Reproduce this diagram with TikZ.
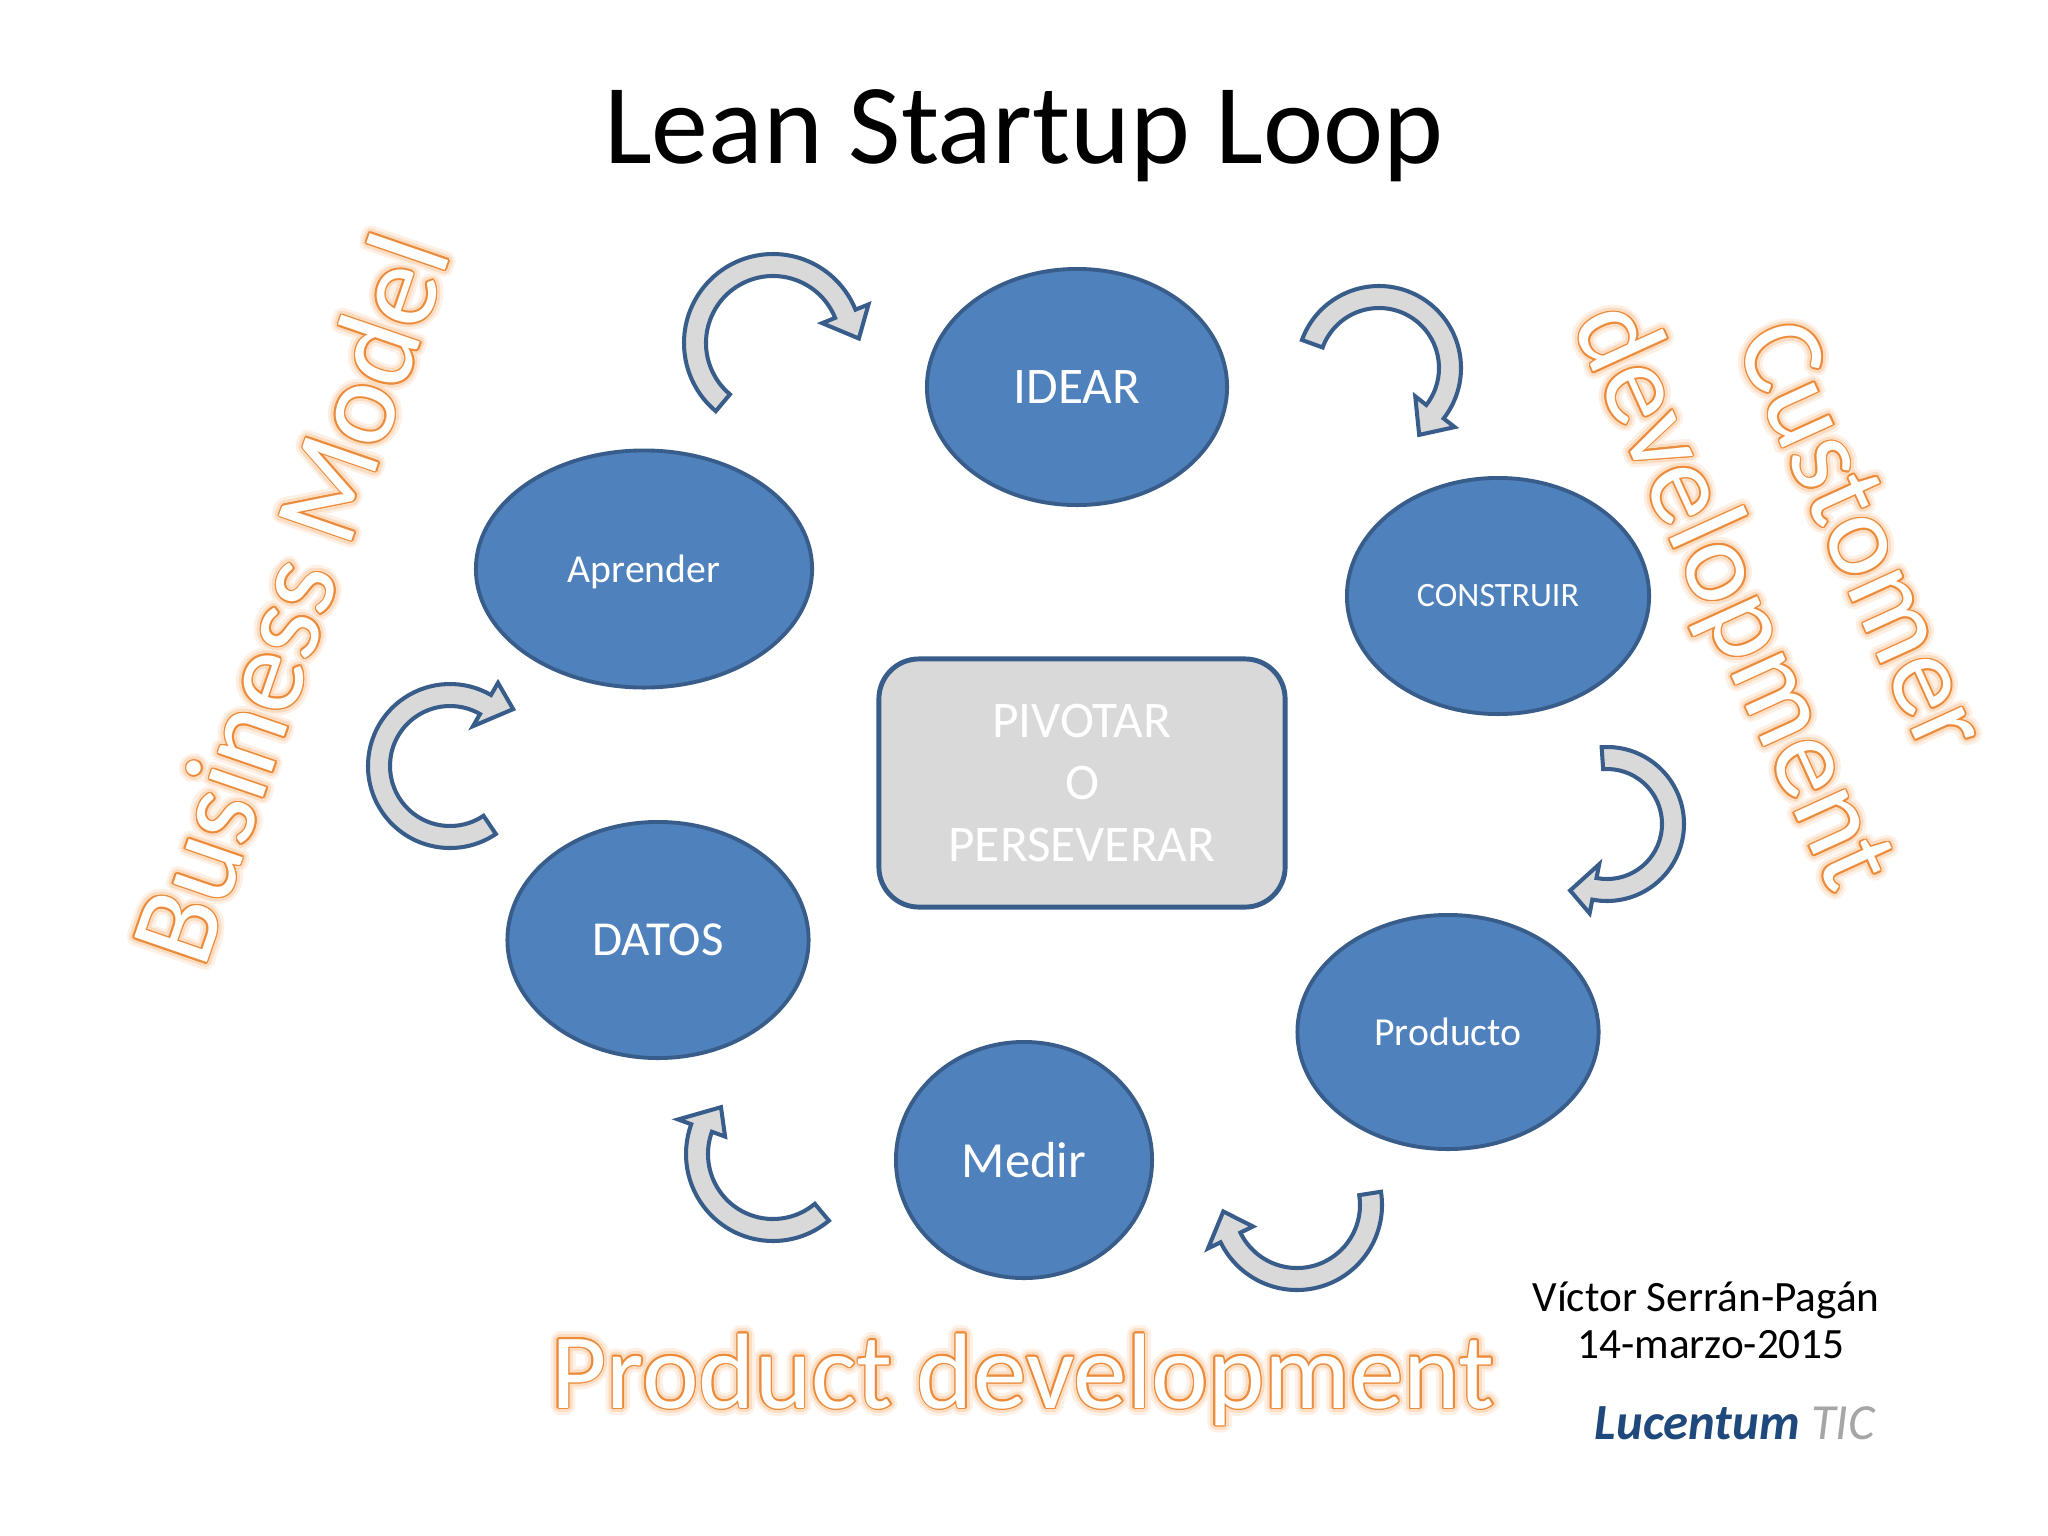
\documentclass[tikz,border=0pt]{standalone}
\usepackage{fontspec}
\setmainfont{Carlito}
\usetikzlibrary{shapes.geometric,calc}
\definecolor{ellfill}{HTML}{4F81BD}
\definecolor{ellline}{HTML}{385D8A}
\definecolor{boxfill}{HTML}{D9D9D9}
\definecolor{arrfill}{HTML}{D9D9D9}
\definecolor{orline}{HTML}{EC8B3A}
\definecolor{orglow}{HTML}{FCDDC2}
\definecolor{orglowb}{HTML}{FEF0E4}
\definecolor{lucblue}{HTML}{1F497D}
\definecolor{ticgray}{HTML}{A6A6A6}
\tikzset{
 ell/.style={ellipse, draw=ellline, fill=ellfill, line width=1.1pt, text=white, inner sep=0pt},
 pivotbox/.style={rectangle, rounded corners=0.4cm, draw=ellline, fill=boxfill, line width=1.4pt, text=white, align=center, inner sep=0pt},
 arrowsty/.style={draw=ellline, fill=arrfill, line width=1.15pt, line join=miter},
 glowbig/.style={text=orglowb, inner sep=0pt, align=center},
 glowsm/.style={text=orglow, inner sep=0pt, align=center},
 outl/.style={text=orline, inner sep=0pt, align=center},
 filltxt/.style={text=white, inner sep=0pt, align=center},
}
\newcommand\arrw{11}
\newcommand\arrh{25}
% cx, cy, r, start, base, tip angle, tip radius
\newcommand\carrow[7]{%
\begin{scope}[shift={(#1,#2)}]
\path[arrowsty] ({#4}:{#3+\arrw}) arc[start angle=#4, end angle=#5, radius={#3+\arrw}]
 -- ({#5}:{#3+\arrh}) -- ({#6}:{#7}) -- ({#5}:{#3-\arrh}) -- ({#5}:{#3-\arrw})
 arc[start angle=#5, end angle=#4, radius={#3-\arrw}] -- cycle;
\end{scope}}
% x, y, rotate, font, text, name, anchor
\newcommand\glowtext[7]{%
 \foreach \a in {0,20,...,340} \node[glowbig, rotate=#3, font=#4, anchor=#7] at ($(#1,#2)+(\a:7.5)$) {#5};
 \foreach \a in {0,20,...,340} \node[glowsm, rotate=#3, font=#4, anchor=#7] at ($(#1,#2)+(\a:4.5)$) {#5};
 \foreach \a in {0,30,...,330} \node[outl, rotate=#3, font=#4, anchor=#7] at ($(#1,#2)+(\a:1.6)$) {#5};
 \node[filltxt, rotate=#3, font=#4, anchor=#7] (#6) at (#1,#2) {#5};
}
\begin{document}
\begin{tikzpicture}[x=0.01cm,y=-0.01cm]
\fill[white] (0,0) rectangle (2048,1536);
\useasboundingbox (0,0) rectangle (2048,1536);

% title
\node[font=\fontsize{32.4}{38}\selectfont, anchor=base, inner sep=0pt] (title) at (1024,163) {Lean Startup Loop};

% curved arrows
\carrow{773}{343}{78}{130}{338}{357}{86}
\carrow{1379}{368}{71}{200}{398}{419}{78}
\carrow{1607}{824}{66}{266}{461}{479}{76}
\carrow{1297}{1205}{74}{-9}{154}{175}{74}
\carrow{773}{1154}{76}{50}{200}{222}{70}
\carrow{450}{766}{71}{56}{300}{318}{85}

% ellipses
\node[ell, minimum width=3.00cm, minimum height=2.36cm, font=\fontsize{14.6}{17}\selectfont] (idear) at (1077,387) {IDEAR};
\node[ell, minimum width=3.36cm, minimum height=2.37cm, text depth=0pt, font=\fontsize{11.3}{13}\selectfont] (aprender) at (644,569) {Aprender};
\node[ell, minimum width=3.02cm, minimum height=2.36cm, font=\fontsize{9.7}{12}\selectfont] (construir) at (1498,596) {CONSTRUIR};
\node[ell, minimum width=3.01cm, minimum height=2.36cm, font=\fontsize{13.9}{16}\selectfont] (datos) at (658,940) {DATOS};
\node[ell, minimum width=3.01cm, minimum height=2.34cm, font=\fontsize{11.3}{13}\selectfont] (producto) at (1448,1032) {Producto};
\node[ell, minimum width=2.56cm, minimum height=2.36cm, font=\fontsize{14.4}{17}\selectfont] (medir) at (1024,1160) {Medir};

% central box
\node[pivotbox, minimum width=4.06cm, minimum height=2.48cm, font=\fontsize{14.6}{17.6}\selectfont] (pivot) at (1082,783) {PIVOTAR\\O\\PERSEVERAR};

% outlined texts
\glowtext{289}{598}{71}{\fontsize{34}{41}\selectfont}{Business Model}{bm}{center}
\glowtext{1792}{569}{-65.5}{\fontsize{33.2}{40}\selectfont}{Customer\\development}{cd}{center}
\glowtext{1023}{1408}{0}{\fontsize{30.5}{37}\selectfont}{Product development}{pd}{base}

% signature
\node[font=\fontsize{12.3}{15}\selectfont, anchor=base, inner sep=0pt] (sig1) at (1706,1311) {Víctor Serrán-Pagán};
\node[font=\fontsize{12.3}{15}\selectfont, anchor=base, inner sep=0pt] (sig2) at (1711,1358) {14-marzo-2015};
\node[font=\fontsize{14.4}{17}\selectfont, anchor=base, inner sep=0pt] (luc) at (1735,1439) {\textcolor{lucblue}{\bfseries\itshape Lucentum} \textcolor{ticgray}{\itshape TIC}};
\end{tikzpicture}
\end{document}
